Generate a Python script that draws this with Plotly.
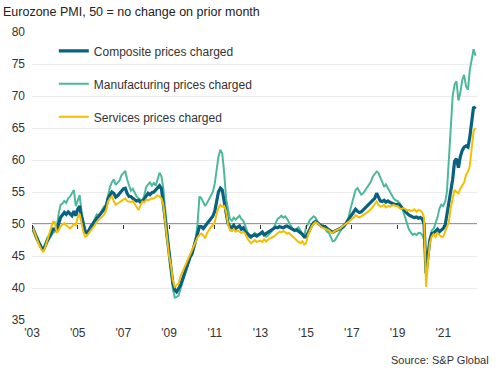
import pandas as pd
import plotly.graph_objects as go

start_month = "2003-01-01"

composite = [
    49.6, 49.0, 48.2, 47.5, 46.8, 46.3, 45.9, 46.6, 47.6, 48.0, 48.5, 49.2,  # 2003
    49.2, 49.0, 50.0, 51.0, 51.4, 51.8, 51.5, 51.9, 51.6, 51.3, 52.0, 51.3,  # 2004
    52.3, 52.8, 51.2, 49.8, 48.8, 48.6, 49.2, 49.6, 50.0, 50.5, 50.9, 51.2,  # 2005
    51.7, 52.0, 52.3, 52.8, 54.0, 54.6, 55.0, 54.8, 54.2, 54.4, 54.8, 55.2,  # 2006
    55.5, 55.6, 54.8, 54.3, 54.3, 54.0, 53.8, 53.6, 53.7, 53.4, 53.6, 53.9,  # 2007
    54.4, 54.8, 54.6, 54.9, 55.0, 55.3, 55.6, 56.0, 55.5, 53.5, 50.6, 48.0,  # 2008
    45.5, 43.3, 40.8, 39.7, 39.4, 39.9, 40.4, 41.3, 42.2, 43.2, 43.9, 44.8,  # 2009
    45.3, 46.4, 47.5, 48.8, 49.6, 49.6, 49.3, 49.7, 50.1, 50.4, 50.8, 51.2,  # 2010
    52.0, 53.5, 55.0, 55.6, 55.3, 53.5, 51.5, 50.1, 49.6, 49.4, 49.8, 49.3,  # 2011
    49.5, 49.7, 49.2, 49.4, 48.8, 48.5, 48.2, 48.0, 48.2, 48.3, 48.1, 48.3,  # 2012
    48.4, 48.7, 48.3, 48.5, 48.7, 48.9, 49.1, 49.2, 49.5, 49.4, 49.6, 49.5,  # 2013
    49.4, 49.6, 49.7, 49.5, 49.3, 49.2, 49.0, 49.1, 48.9, 48.7, 48.4, 48.0,  # 2014
    48.0, 48.6, 49.3, 49.8, 50.2, 50.4, 50.2, 49.9, 49.7, 49.6, 49.6, 49.3,  # 2015
    49.1, 48.8, 48.7, 48.9, 49.0, 49.2, 49.3, 49.5, 49.8, 50.1, 50.6, 51.0,  # 2016
    51.6, 52.0, 52.3, 52.0, 51.8, 51.9, 52.2, 52.5, 52.7, 53.0, 53.4, 53.6,  # 2017
    54.0, 54.8, 54.3, 53.6, 53.5, 53.7, 53.4, 53.6, 53.4, 53.3, 53.2, 53.0,  # 2018
    53.1, 53.0, 52.7, 52.3, 52.0, 51.7, 51.4, 51.2, 51.1, 51.0, 51.1, 50.9,  # 2019
    51.0, 50.8, 50.0, 42.3, 45.0, 47.5, 48.5, 48.6, 48.9, 49.2, 48.8, 49.0,  # 2020
    49.3, 49.8, 51.5, 53.0, 54.8, 57.0, 59.8, 60.2, 58.8, 60.5, 61.5, 62.0,  # 2021
    62.2, 62.0, 63.5, 66.0, 68.3, 68.0,                                      # 2022
]

manufacturing = [
    49.4, 49.2, 48.5, 47.9, 47.0, 46.5, 46.0, 46.9, 47.8, 47.6, 48.1, 48.6,  # 2003
    48.8, 49.5, 51.5, 53.0, 53.2, 53.6, 53.3, 54.0, 54.3, 54.8, 55.3, 52.8,  # 2004
    53.6, 54.5, 52.0, 50.3, 49.0, 48.6, 49.0, 49.8, 50.2, 50.8, 51.5, 51.2,  # 2005
    51.6, 52.3, 52.8, 53.0, 54.5, 55.8, 56.5, 57.0, 56.1, 56.4, 56.8, 57.6,  # 2006
    58.0, 58.3, 57.0, 56.0, 55.2, 55.5, 54.8, 54.3, 54.0, 53.8, 53.6, 54.5,  # 2007
    55.8, 56.2, 56.5, 56.0, 56.4, 56.0, 57.0, 58.0, 57.4, 55.5, 52.2, 49.5,  # 2008
    46.5, 43.0, 40.0, 38.5, 38.6, 38.8, 39.8, 40.8, 41.8, 42.8, 43.6, 44.6,  # 2009
    45.5, 46.5, 47.5, 50.0, 54.3, 54.0, 53.5, 52.8, 53.3, 53.8, 54.5, 55.0,  # 2010
    56.3, 58.5, 60.5, 61.6, 61.0, 58.0, 54.0, 52.3, 50.8, 50.5, 51.0, 50.7,  # 2011
    51.0, 51.3, 50.8, 50.5, 49.8, 48.8, 48.0, 47.8, 48.2, 48.6, 48.4, 48.3,  # 2012
    48.6, 48.9, 48.4, 48.0, 48.2, 48.5, 48.9, 49.4, 50.2, 50.8, 51.0, 51.3,  # 2013
    51.0, 51.2, 50.8, 50.2, 49.6, 49.2, 49.0, 49.3, 49.5, 49.0, 48.4, 48.0,  # 2014
    49.6, 50.0, 50.6, 50.9, 51.2, 51.0, 50.5, 49.8, 49.6, 49.8, 49.3, 48.8,  # 2015
    48.6, 47.8, 47.3, 47.4, 47.8, 48.4, 48.9, 49.3, 49.5, 50.0, 50.6, 52.0,  # 2016
    53.2, 54.5, 55.3, 55.6, 55.2, 54.6, 54.8, 55.3, 55.6, 56.2, 56.6, 57.4,  # 2017
    57.8, 58.2, 58.0, 57.4, 56.6, 55.8, 56.2, 55.6, 55.0, 54.6, 54.0, 53.7,  # 2018
    53.6, 53.3, 52.8, 52.0, 51.0, 50.2, 49.2, 48.7, 48.3, 48.5, 48.3, 48.6,  # 2019
    48.6, 48.3, 47.5, 44.0, 45.8, 47.8, 49.0, 49.3, 50.2, 51.0, 52.4, 53.0,  # 2020
    52.8, 53.5, 55.0, 60.0, 65.0, 70.0, 71.8, 72.3, 69.3, 70.5, 72.5, 73.3,  # 2021
    71.5, 71.0, 74.0, 75.5, 77.3, 76.3,                                      # 2022
]

services = [
    49.7, 48.9, 48.0, 47.2, 46.6, 46.0, 45.6, 46.4, 47.4, 48.3, 49.3, 50.3,  # 2003
    50.3, 48.6, 49.0, 49.6, 49.9, 50.1, 49.8, 49.6, 49.3, 49.6, 50.0, 49.8,  # 2004
    51.0, 51.6, 50.0, 48.8, 48.0, 48.2, 48.6, 49.0, 49.3, 49.8, 50.3, 50.6,  # 2005
    51.0, 51.3, 51.5, 52.2, 53.5, 54.0, 54.3, 53.6, 53.0, 53.2, 53.4, 53.5,  # 2006
    53.8, 54.0, 53.6, 53.5, 53.4, 53.6, 53.2, 52.8, 52.2, 52.9, 53.5, 53.4,  # 2007
    53.8, 53.7, 53.9, 54.0, 54.0, 54.2, 54.5, 54.3, 54.0, 53.0, 50.5, 47.8,  # 2008
    45.0, 43.5, 41.2, 40.2, 40.4, 40.7, 41.8, 42.5, 43.1, 43.8, 44.4, 45.3,  # 2009
    45.8, 46.6, 47.2, 47.9, 48.3, 48.5, 48.2, 47.8, 48.6, 49.1, 49.5, 49.8,  # 2010
    50.3, 51.6, 52.5, 53.0, 52.7, 52.8, 52.0, 50.0, 49.0, 48.9, 49.2, 48.8,  # 2011
    49.0, 48.8, 48.6, 48.8, 48.5, 47.8, 47.3, 47.0, 47.2, 47.5, 47.2, 47.3,  # 2012
    47.4, 47.2, 47.6, 47.3, 47.6, 47.8, 47.9, 48.0, 48.3, 48.6, 48.8, 48.7,  # 2013
    48.9, 48.7, 48.5, 48.6, 48.3, 48.0, 47.8, 47.5, 47.2, 47.0, 47.3, 46.8,  # 2014
    47.0, 48.3, 49.0, 49.6, 50.0, 50.3, 50.1, 49.8, 49.5, 49.4, 49.3, 49.1,  # 2015
    49.0, 48.7, 48.6, 48.9, 49.0, 49.1, 49.3, 49.6, 49.8, 50.0, 50.2, 50.5,  # 2016
    50.8, 51.0, 51.4, 51.2, 51.0, 51.2, 51.4, 51.6, 51.7, 52.0, 52.3, 52.7,  # 2017
    53.0, 53.5, 53.0, 52.7, 52.8, 53.0, 52.6, 52.8, 52.7, 52.9, 53.0, 52.8,  # 2018
    52.8, 52.5, 52.3, 52.5, 52.4, 52.1, 52.2, 52.0, 52.1, 52.3, 51.9, 52.2,  # 2019
    52.1, 51.8, 51.0, 40.2, 44.0, 47.0, 48.0, 48.4, 48.0, 48.6, 48.3, 48.0,  # 2020
    48.0, 48.8, 49.5, 50.3, 52.5, 53.8, 55.3, 55.0, 54.8, 55.5, 56.0, 56.5,  # 2021
    57.7, 58.2, 59.0, 61.5, 64.5, 65.0,                                      # 2022
]

series_names = ["Composite prices charged", "Manufacturing prices charged", "Services prices charged"]
y_ticks = [35, 40, 45, 50, 55, 60, 65, 70, 75, 80]
no_change_level = 50
title_text = "Eurozone PMI, 50 = no change on prior month"
source_text = "Source: S&P Global"

dates = pd.date_range(start_month, periods=len(composite), freq="MS")

FONT = "Liberation Sans, Arial, sans-serif"
TXT = "#333333"
C_COMP = "#08617f"
C_MANU = "#4db89b"
C_SERV = "#f6be00"

fig = go.Figure()
fig.add_trace(go.Scatter(x=dates, y=manufacturing, name=series_names[1], mode="lines",
                         line=dict(color=C_MANU, width=2), legendrank=2, legendgroup="m"))
fig.add_trace(go.Scatter(x=dates, y=composite, name=series_names[0], mode="lines",
                         line=dict(color=C_COMP, width=3.2), legendrank=1, legendgroup="c"))
fig.add_trace(go.Scatter(x=dates, y=services, name=series_names[2], mode="lines",
                         line=dict(color=C_SERV, width=2), legendrank=3, legendgroup="s"))
# invisible carrier trace for the tick axis drawn on the 50 line
fig.add_trace(go.Scatter(x=dates, y=composite, xaxis="x2", mode="lines", showlegend=False,
                         hoverinfo="skip", opacity=0, line=dict(width=0)))

x_end = "2022-06-25"
fig.update_layout(
    width=500, height=372, autosize=False,
    margin=dict(l=27, r=23, t=32, b=52),
    paper_bgcolor="white", plot_bgcolor="white",
    font=dict(family=FONT, size=12, color=TXT),
    title=dict(text=title_text, x=0.006, xref="container", xanchor="left",
               y=1 - 12 / 372, yref="container", yanchor="middle",
               font=dict(family=FONT, size=12.5, color="#222222")),
    xaxis=dict(type="date", range=[dates[0], x_end], tick0=start_month, dtick="M24",
               tickformat="'%y", showgrid=False, showline=False, zeroline=False, ticks="",
               tickfont=dict(size=12, color=TXT), ticklabelstandoff=4),
    xaxis2=dict(type="date", overlaying="x", matches="x", anchor="free",
                position=(no_change_level - y_ticks[0]) / (y_ticks[-1] - y_ticks[0]),
                side="bottom", tick0=start_month, dtick="M24", ticks="outside", ticklen=4,
                tickcolor="#333333", tickwidth=1, showticklabels=False, showgrid=False,
                showline=False, zeroline=False),
    yaxis=dict(range=[y_ticks[0], y_ticks[-1]], tickvals=y_ticks, showgrid=True,
               gridcolor="#ececec", gridwidth=1, zeroline=False, showline=False,
               tickfont=dict(size=12, color=TXT), ticklabelstandoff=6),
    legend=dict(x=0.049, xanchor="left", y=0.985, yanchor="top", bgcolor="rgba(0,0,0,0)",
                font=dict(family=FONT, size=12, color=TXT), tracegroupgap=14,
                traceorder="grouped"),
    shapes=[dict(type="line", xref="paper", x0=0, x1=1, yref="y", y0=no_change_level,
                 y1=no_change_level, line=dict(color="#333333", width=1), layer="below")],
    annotations=[dict(text=source_text, xref="paper", yref="paper", x=1.031, y=-0.139,
                      xanchor="right", yanchor="middle", showarrow=False,
                      font=dict(family=FONT, size=11, color=TXT))],
    showlegend=True,
)

fig.write_html("out.html", config={"displayModeBar": False},
               post_script="document.body.style.margin='0px';document.body.style.overflow='hidden';")
